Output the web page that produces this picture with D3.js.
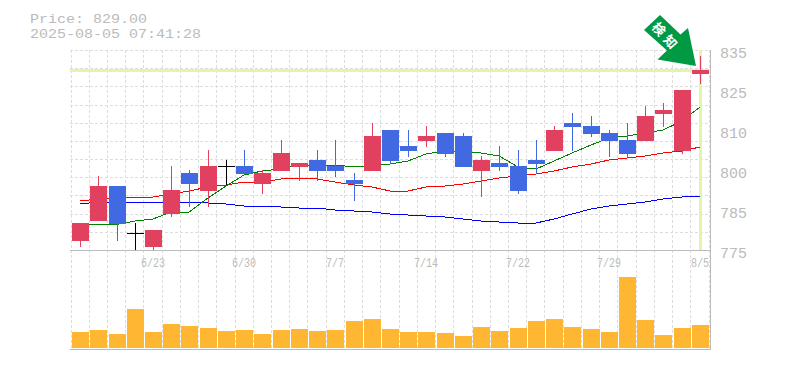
<!DOCTYPE html>
<html>
<head>
<meta charset="utf-8">
<script src="https://cdn.jsdelivr.net/npm/d3@7"></script>
<style>
html, body { margin: 0; padding: 0; background: #fff; }
svg { display: block; }
text { font-family: "Liberation Mono", monospace; fill: #bbb; }
</style>
</head>
<body>
<div id="chart"></div>
<script>
// daily candles, values
const dates = ["6/17","6/18","6/19","6/20","6/23","6/24","6/25","6/26","6/27","6/30","7/1","7/2","7/3","7/4","7/7","7/8","7/9","7/10","7/11","7/14","7/15","7/16","7/17","7/18","7/22","7/23","7/24","7/25","7/28","7/29","7/30","7/31","8/1","8/4","8/5"];
const opens = [777.7,783.7,794.2,780,775.9,785.8,798.1,792.7,800.2,800.2,794.8,798.7,799.9,802,800.2,796,798.7,811,806.2,807.7,810.1,809.2,798.7,801.1,800.2,802,804.7,813.1,812.2,810.1,808,807.7,815.8,804.7,827.8];
const highs = [783.1,797.2,794.2,783.1,781,800.2,799,805,802,805,799,808,801.1,805,808,798.1,813.1,811,811,812.2,810.1,810.1,803.2,806.2,805,808,812.2,816.1,815.2,811,813.1,818.2,819.1,823,833.2];
const lows = [775.9,783.7,777.7,774.8,774.8,784.9,787.9,787.9,794.5,797.8,791.8,798.7,795.7,795.7,796.9,789.7,798.7,800.8,802.9,805.9,802.9,799.9,790.9,798.7,791.8,797.8,804.7,804.7,808.9,802.9,802.9,807.7,811.9,803.8,824.8];
const closes = [783.1,794.2,782.8,780,781,793,794.8,800.2,800.2,797.8,798.1,804.1,801.1,798.7,798.7,794.8,809.2,801.7,804.7,809.2,803.8,799.9,802,799.9,792.7,800.8,811,811.9,809.8,807.7,803.8,815.2,817,823,829];
const volumes = [16,18,14,39,16,24,22,20,17,18,14,18,19,17,18,27,29,19,16,16,15,12,21,17,20,27,29,21,19,16,71,28,13,20,23];

// moving averages
const maShort = [782.5,782.7,782.7,783.7,784.3,786.4,786.4,790.6,794.2,797.5,798.7,799.3,800.5,800.2,800.5,799.9,800.2,800.8,801.7,803.8,804.7,804.4,804.1,803.2,799.9,799.3,801.7,804.1,806.5,808.6,809.2,810.1,811,813.7,817.9];
const maMid = [789.7,790.3,790.6,790.9,790.9,791.8,792.7,793.9,794.5,795.4,795.4,796.3,796.6,796.3,795.4,794.5,793.9,792.7,792.7,793.9,794.2,794.8,795.7,796.6,797.2,797.8,798.7,799.9,800.8,802,802.6,803.2,804.1,804.7,805.9];
const maLong = [788.8,789.4,789.4,789.4,789.4,789.4,789.4,789.1,788.8,788.2,788.2,787.9,787.6,787.6,787,786.7,786.4,785.8,785.5,785.2,784.9,784.3,783.7,783.4,783.1,783.1,784.3,785.8,787.3,788.2,788.8,789.4,790.3,790.9,791.2];

// the labels are rounded in the original, ticks are really 12 apart
const yTicks = [835,823,811,799,787,775];
const yLabels = ["835","825","810","800","785","775"];
const xLabels = ["6/23","6/30","7/7","7/14","7/22","7/29","8/5"];
const lastPrice = 829;
const titleLines = ["Price: 829.00","2025-08-05 07:41:28"];
const signal = "検知";

const svgWidth = 785;
const svgHeight = 370;
const plot = { left: 71, right: 709, top: 50, bottom: 250, volBottom: 349 };

const svg = d3.select("#chart")
    .append("svg")
    .attr("width", svgWidth)
    .attr("height", svgHeight);

const x = d3.scaleBand()
    .domain(dates)
    .range([plot.left, plot.right]);
const cx = d => Math.round(x(d) + x.bandwidth()/2);

const y = d3.scaleLinear()
    .domain([775, 835])
    .range([plot.bottom, plot.top]);

const yVol = d3.scaleLinear()
    .domain([0, 80])
    .range([plot.volBottom - 1, plot.volBottom - 81]);

const crisp = sel => sel.attr("shape-rendering", "crispEdges");

// grid, 11 cells each way
const gridY = d3.range(12).map(i => plot.bottom - i*(plot.bottom-plot.top)/11);
svg.append("g").selectAll("line")
    .data(gridY)
    .enter().append("line")
    .attr("x1", 70).attr("x2", 710)
    .attr("y1", d => Math.round(d)+0.5).attr("y2", d => Math.round(d)+0.5)
    .attr("stroke", "#ddd").attr("stroke-dasharray", "3,2")
    .call(crisp);

const gridX = d3.range(36).map(i => plot.left + i*x.step() - 0.5);
svg.append("g").selectAll("line")
    .data(gridX)
    .enter().append("line")
    .attr("x1", d => Math.round(d)+0.5).attr("x2", d => Math.round(d)+0.5)
    .attr("y1", plot.top).attr("y2", plot.volBottom)
    .attr("stroke", "#ddd").attr("stroke-dasharray", "3,2")
    .call(crisp);

// pane borders
svg.append("path")
    .attr("d", `M70,${plot.bottom}.5H710.5M710.5,${plot.top}V${plot.volBottom+1}M70,${plot.volBottom}.5H710.5`)
    .attr("fill", "none").attr("stroke", "#bbb")
    .call(crisp);

// current price, both ways
svg.append("line")
    .attr("x1", 70).attr("x2", 710)
    .attr("y1", y(lastPrice)).attr("y2", y(lastPrice))
    .attr("stroke", "#e2f5a8").attr("stroke-width", 3)
    .call(crisp);
svg.append("line")
    .attr("x1", cx("8/5")).attr("x2", cx("8/5"))
    .attr("y1", plot.top).attr("y2", plot.bottom)
    .attr("stroke", "#e2f5a8").attr("stroke-width", 3)
    .call(crisp);

// moving average lines
const maLine = d3.line()
    .x((d, i) => cx(dates[i]))
    .y(d => y(d));
[[maLong,"#0000ff"],[maMid,"#ff0000"],[maShort,"#008000"]].forEach(function (m) {
    svg.append("path")
        .attr("d", maLine(m[0]))
        .attr("fill", "none")
        .attr("stroke", m[1])
        .call(crisp);
});

// candles
const upColor = "#e2405f";
const downColor = "#4169e1";
const candleColor = i => closes[i] > opens[i] ? upColor : closes[i] < opens[i] ? downColor : "#000";

const candles = svg.append("g").selectAll("g")
    .data(dates)
    .enter().append("g");

candles.append("line")
    .attr("x1", d => cx(d)+0.5).attr("x2", d => cx(d)+0.5)
    .attr("y1", (d,i) => y(highs[i]))
    .attr("y2", (d,i) => Math.min(y(lows[i]), plot.bottom))
    .attr("stroke", (d,i) => candleColor(i))
    .call(crisp);

candles.append("rect")
    .attr("x", d => cx(d)-8)
    .attr("width", 17)
    .attr("y", (d,i) => Math.round(y(Math.max(opens[i],closes[i]))))
    .attr("height", (d,i) => Math.max(1, Math.round(Math.abs(y(opens[i])-y(closes[i])))))
    .attr("fill", (d,i) => candleColor(i))
    .call(crisp);

// volume
svg.append("g").selectAll("rect")
    .data(dates)
    .enter().append("rect")
    .attr("x", d => cx(d)-8)
    .attr("width", 17)
    .attr("y", (d,i) => yVol(volumes[i]))
    .attr("height", (d,i) => yVol(0)-yVol(volumes[i]))
    .attr("fill", "#ffb733")
    .call(crisp);

// axis labels
svg.append("g").selectAll("text")
    .data(yTicks)
    .enter().append("text")
    .attr("x", 720)
    .attr("y", d => y(d)+8)
    .attr("font-size", 15)
    .text((d,i) => yLabels[i]);

// labels in the picture are narrow and tall, so stretch them a bit
svg.append("g").selectAll("text")
    .data(xLabels)
    .enter().append("text")
    .attr("transform", d => `translate(${cx(d)},267) scale(1,1.3)`)
    .attr("text-anchor", "middle")
    .attr("font-size", 10)
    .text(d => d);

// header, 13px stretched out to the width of the original so the lines don't touch
svg.append("g").selectAll("text")
    .data(titleLines)
    .enter().append("text")
    .attr("x", 30)
    .attr("y", (d,i) => 23+i*15)
    .attr("font-size", 13)
    .attr("textLength", d => d.length*9)
    .attr("lengthAdjust", "spacingAndGlyphs")
    .text(d => d);

// signal arrow, drawn relative to the last price
const tipX = cx("8/5") - 4;
const tipY = y(lastPrice) - 4;
const arrow = svg.append("g")
    .attr("transform", `translate(${tipX},${tipY})`);
arrow.append("path")
    .attr("d", "M0,0L-38.5,-6.5L-29,-15.5L-52,-36L-36,-51L-15.5,-31.5L-8,-38Z")
    .attr("fill", "#009944");
arrow.append("text")
    .attr("transform", "translate(-29.5,-29.5) rotate(48)")
    .attr("text-anchor", "middle")
    .attr("dominant-baseline", "central")
    .attr("font-size", 13)
    .attr("font-weight", "bold")
    .attr("letter-spacing", 4)
    .style("font-family", "'Noto Sans CJK JP'")
    .style("fill", "#fff")
    .text(signal);
</script>
</body>
</html>
